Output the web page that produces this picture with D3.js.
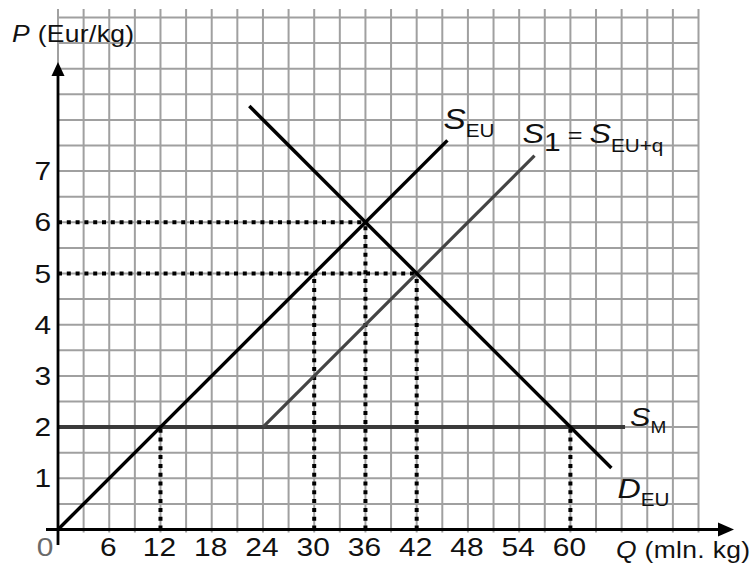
<!DOCTYPE html>
<html>
<head>
<meta charset="utf-8">
<script src="https://cdn.jsdelivr.net/npm/d3@7"></script>
<style>
  html, body { margin: 0; padding: 0; background: #fff; }
  svg { display: block; font-family: "Liberation Sans", Arial, Helvetica, sans-serif; }
</style>
</head>
<body>
<svg id="chart" width="756" height="563"></svg>
<script>
// ---- data ----
const xTicks = [6, 12, 18, 24, 30, 36, 42, 48, 54, 60];
const yTicks = [1, 2, 3, 4, 5, 6, 7];
const xGrid = d3.range(0, 76, 3);         // grid every 3 mln. kg
const yGrid = d3.range(0.5, 10.01, 0.5);  // grid every 0.5 Eur/kg

const supplyEU = [[0, 0], [45.6, 7.6]];
const supply1  = [[24, 2], [55.8, 7.3]];
const supplyM  = [[0, 2], [66.4, 2]];
const demandEU = [[22.4, 8.27], [64.8, 1.2]];

// dotted guide lines: [x, y] of intersection points
const hGuides = [[36, 6], [42, 5]];
const vGuides = [[12, 2], [30, 5], [36, 6], [42, 5], [60, 2]];

// ---- scales ----
const x = d3.scaleLinear().domain([0, 75]).range([58, 698.5]);
const y = d3.scaleLinear().domain([0, 10]).range([529.5, 17.5]);

const svg = d3.select("#chart");
const SX = 1.15; // horizontal stretch of the lettering

function stext(px, py, anchor) {
  const g = svg.append("g").attr("transform", `translate(${px},${py}) scale(${SX},1)`);
  return g.append("text").attr("x", 0).attr("y", 0).attr("text-anchor", anchor || "start").attr("fill", "#111");
}

// grid
const grid = svg.append("g").attr("stroke", "#a0a0a0").attr("stroke-width", 2);
grid.selectAll("line.v").data(xGrid).join("line")
  .attr("x1", d => x(d)).attr("x2", d => x(d))
  .attr("y1", 9).attr("y2", y(0) + 3);
grid.selectAll("line.h").data(yGrid).join("line")
  .attr("x1", x(0)).attr("x2", x(75))
  .attr("y1", d => y(d)).attr("y2", d => y(d));

// dotted guides
const dots = svg.append("g").attr("stroke", "#000").attr("stroke-width", 4)
  .attr("stroke-dasharray", "4,4.8");
dots.selectAll("line.hg").data(hGuides).join("line")
  .attr("x1", x(0)).attr("x2", d => x(d[0]))
  .attr("y1", d => y(d[1])).attr("y2", d => y(d[1]));
dots.selectAll("line.vg").data(vGuides).join("line")
  .attr("x1", d => x(d[0])).attr("x2", d => x(d[0]))
  .attr("y1", y(0)).attr("y2", d => y(d[1]));

// curves
const line = d3.line().x(d => x(d[0])).y(d => y(d[1]));
svg.append("path").attr("d", line(supplyM)).attr("stroke", "#3a3a3a").attr("stroke-width", 4).attr("fill", "none");
svg.append("path").attr("d", line(supply1)).attr("stroke", "#444").attr("stroke-width", 3.2).attr("fill", "none");
svg.append("path").attr("d", line(supplyEU)).attr("stroke", "#000").attr("stroke-width", 3.4).attr("fill", "none");
svg.append("path").attr("d", line(demandEU)).attr("stroke", "#000").attr("stroke-width", 3.4).attr("fill", "none");

// axes
svg.append("line").attr("x1", 46).attr("x2", 722).attr("y1", y(0)).attr("y2", y(0))
  .attr("stroke", "#000").attr("stroke-width", 3);
svg.append("line").attr("x1", x(0)).attr("x2", x(0)).attr("y1", 545).attr("y2", 72)
  .attr("stroke", "#000").attr("stroke-width", 2.8);
svg.append("path").attr("d", `M${x(0)},62 L${x(0) - 6.5},76 L${x(0) + 6.5},76 Z`).attr("fill", "#000");
svg.append("path").attr("d", `M734,${y(0)} L718,${y(0) - 7} L718,${y(0) + 7} Z`).attr("fill", "#000");

// tick labels
xTicks.forEach(d => stext(x(d) - 1, 556, "middle").attr("font-size", 26).text(d));
stext(45, 556, "middle").attr("font-size", 26).attr("fill", "#6a6a6a").text("0");
yTicks.forEach(d => stext(51, y(d) + 9, "end").attr("font-size", 26).text(d));

// axis titles
const pt = stext(12, 42).attr("font-size", 23).attr("letter-spacing", 0.3);
pt.append("tspan").attr("font-style", "italic").text("P");
pt.append("tspan").text(" (Eur/kg)");
const qt = stext(616, 558).attr("font-size", 23).attr("letter-spacing", 0.3);
qt.append("tspan").attr("font-style", "italic").text("Q");
qt.append("tspan").text(" (mln. kg)");

// curve labels
function label(px, py, main, sub, mainSize, subSize, subDy) {
  const t = stext(px, py);
  t.append("tspan").attr("font-style", "italic").attr("font-size", mainSize).text(main);
  t.append("tspan").attr("font-size", subSize).attr("dy", subDy).text(sub);
  return t;
}
const eEU = supplyEU[1], e1 = supply1[1], eM = supplyM[1], eD = demandEU[1];
label(x(eEU[0]) - 4, y(eEU[1]) - 11, "S", "EU", 29, 18, 8);
label(x(eM[0]) + 5, y(eM[1]) - 1, "S", "M", 26.5, 16.5, 7);
label(x(eD[0]) + 6, y(eD[1]) + 30, "D", "EU", 28, 18, 8);

// S1 = S EU+q
const s1 = stext(x(e1[0]) - 12, y(e1[1]) - 13);
s1.append("tspan").attr("font-style", "italic").attr("font-size", 28).text("S");
s1.append("tspan").attr("font-size", 26).attr("dy", 8).text("1");
s1.append("tspan").attr("font-size", 22).attr("dy", -8).text(" = ");
s1.append("tspan").attr("font-style", "italic").attr("font-size", 28).text("S");
s1.append("tspan").attr("font-size", 18).attr("dy", 9).text("EU+q");
</script>
</body>
</html>
